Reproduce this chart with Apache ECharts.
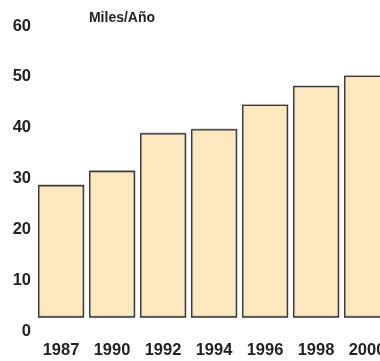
<!DOCTYPE html>
<html>
<head>
<meta charset="utf-8">
<script src="https://cdn.jsdelivr.net/npm/echarts@6/dist/echarts.min.js"></script>
<style>
  html, body { margin: 0; padding: 0; background: #ffffff; }
  #chart { width: 380px; height: 361px; }
</style>
</head>
<body>
<div id="chart"></div>
<script>
// Years on the horizontal axis
const years = ['1987', '1990', '1992', '1994', '1996', '1998', '2000'];
// Thousands per year
const valores = [28.7, 31.5, 38.9, 39.7, 44.5, 48.2, 50.2];
// Vertical scale labels
const yMin = 0;
const yMax = 60;
const yStep = 10;
// Bars rise from this level of the scale
const barBase = 2.75;

const font = '"Liberation Sans", Arial, sans-serif';
const chart = echarts.init(document.getElementById('chart'), null, { renderer: 'canvas' });

chart.setOption({
  animation: false,
  backgroundColor: '#ffffff',
  title: {
    text: 'Miles/Año',
    left: 117,
    top: 6,
    textAlign: 'center',
    textStyle: { fontFamily: font, fontSize: 14, fontWeight: 'bold', color: '#222222' }
  },
  grid: [
    // scale and year labels; the plot runs past the right edge of the page
    { left: 35.5, width: 357, top: 26, bottom: 30, outerBoundsMode: 'none', containLabel: false },
    // bars
    { left: 35.5, width: 357, top: 26, bottom: 44, outerBoundsMode: 'none', containLabel: false }
  ],
  xAxis: [
    {
      type: 'category', gridIndex: 0, data: years,
      axisLine: { show: false }, axisTick: { show: false },
      axisLabel: {
        margin: 11, interval: 0,
        fontFamily: font, fontSize: 16.5, fontWeight: 'bold', color: '#222222'
      }
    },
    {
      type: 'category', gridIndex: 1, data: years, show: false
    }
  ],
  yAxis: [
    {
      type: 'value', gridIndex: 0, min: yMin, max: yMax, interval: yStep,
      axisLine: { show: false }, axisTick: { show: false }, splitLine: { show: false },
      axisLabel: { margin: 4.5, fontFamily: font, fontSize: 16.5, fontWeight: 'bold', color: '#222222' }
    },
    {
      type: 'value', gridIndex: 1, min: barBase, max: yMax, show: false,
      splitLine: { show: false }
    }
  ],
  series: [
    {
      type: 'bar',
      xAxisIndex: 1,
      yAxisIndex: 1,
      data: valores,
      barWidth: 46,
      itemStyle: {
        color: '#fee8c0',
        borderColor: '#3a3a3a',
        borderWidth: 1.3,
        shadowColor: 'rgba(0,0,0,0.25)',
        shadowBlur: 1,
        shadowOffsetX: 0.5,
        shadowOffsetY: -0.5
      }
    }
  ]
});
</script>
</body>
</html>
